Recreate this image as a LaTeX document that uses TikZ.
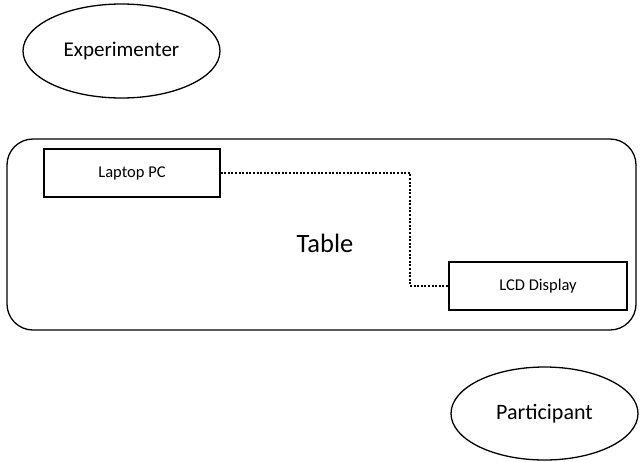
\documentclass[tikz,border=0pt]{standalone}
\usepackage{fontspec}
\setmainfont{Carlito}
\usetikzlibrary{shapes.geometric, positioning}

\begin{document}
\begin{tikzpicture}[x=1pt, y=-1pt,
    person/.style={draw, ellipse, line width=1.3pt, inner sep=0pt, font=\fontsize{21}{24}\selectfont},
    device/.style={draw, rectangle, line width=1.3pt, inner sep=0pt, font=\fontsize{16.5}{19}\selectfont},
    cable/.style={line width=2pt, dash pattern=on 2pt off 1.6pt}]
  \useasboundingbox (0,0) rectangle (642,461);
  \node[person, minimum width=197pt, minimum height=94pt] (experimenter) at (121.5,51) {Experimenter};
  \node[draw, rectangle, rounded corners=26pt, line width=1.3pt, minimum width=629pt, minimum height=191pt] (table) at (321.5,234.5) {};
  \node[font=\fontsize{26.5}{30}\selectfont] (tablelabel) at (325,243) {Table};
  \node[device, minimum width=176pt, minimum height=48pt] (laptop) at (132,173) {Laptop PC};
  \node[device, minimum width=178pt, minimum height=48pt] (lcd) at (538,286) {LCD Display};
  \coordinate (cablex) at (410,0);
  \draw[cable] (laptop.east) -| (cablex |- lcd.west) -- (lcd.west);
  \node[person, minimum width=187pt, minimum height=93pt, font=\fontsize{22}{25}\selectfont] (participant) at (544.5,413.5) {Participant};
\end{tikzpicture}
\end{document}
